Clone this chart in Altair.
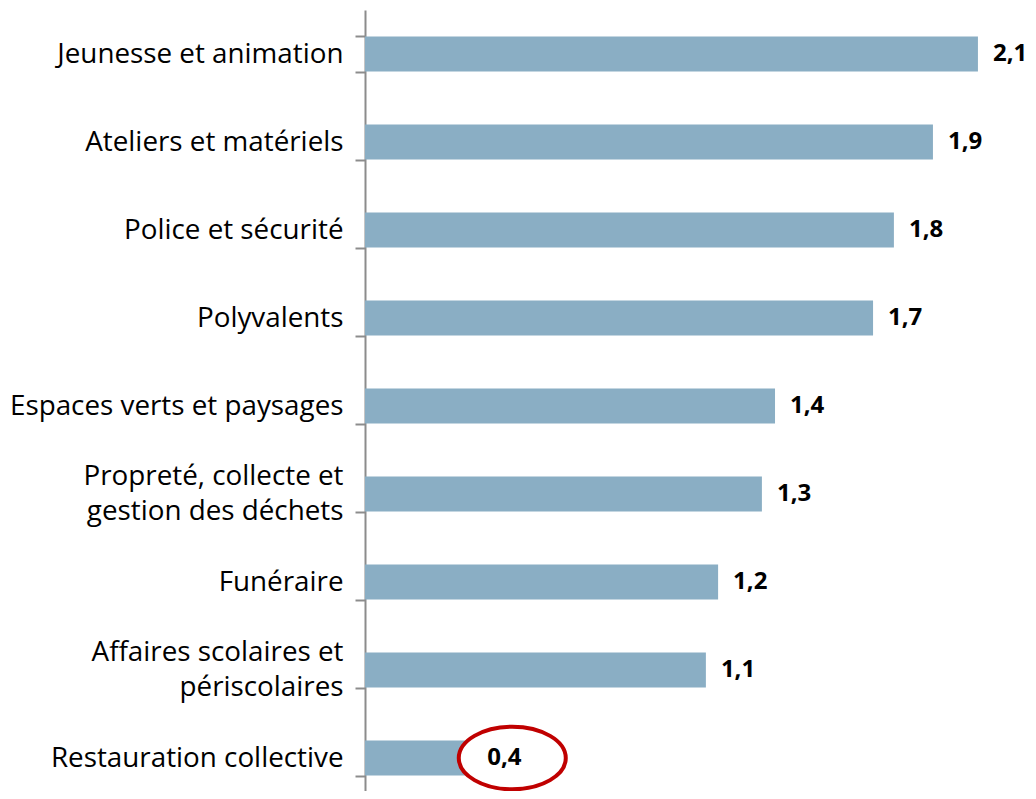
import altair as alt
import pandas as pd

categories = [
    "Jeunesse et animation",
    "Ateliers et matériels",
    "Police et sécurité",
    "Polyvalents",
    "Espaces verts et paysages",
    "Propreté, collecte et|gestion des déchets",
    "Funéraire",
    "Affaires scolaires et|périscolaires",
    "Restauration collective",
]
values = [2.057, 1.906, 1.775, 1.705, 1.376, 1.332, 1.185, 1.144, 0.36]
highlight = [False, False, False, False, False, False, False, False, True]

df = pd.DataFrame({"cat": categories, "value": values, "hl": highlight})

FONT = "Open Sans"
BAR = "#8aaec4"

y = alt.Y("cat:N", sort=categories, title=None,
          scale=alt.Scale(range=[0, 792], paddingInner=0.6, paddingOuter=0.3),
          axis=alt.Axis(tickBand="extent", domainColor="#8c8c8c", domainWidth=2,
                        tickColor="#8c8c8c", tickWidth=2, tickSize=10,
                        labelPadding=12, labelFont=FONT, labelFontSize=27.8,
                        labelColor="#000000", labelLimit=0, labelLineHeight=35,
                        labelOffset={"condition": {"test": "indexof(datum.label, '|') >= 0",
                                                   "value": -17.5},
                                     "value": 0},
                        labelExpr="split(datum.label, '|')"))
x = alt.X("value:Q", title=None, axis=None,
          scale=alt.Scale(domain=[0, 2.225], nice=False, zero=True))

base = alt.Chart(df)

bars = base.mark_bar(color=BAR).encode(x=x, y=y)

ellipse = base.transform_filter("datum.hl").mark_point(
    shape="M -1 0 A 1 0.585 0 1 1 1 0 A 1 0.585 0 1 1 -1 0 Z",
    size=11449, filled=False, fill="#ffffff", fillOpacity=1,
    stroke="#c00000", strokeWidth=4, opacity=1
).encode(x=x, y=y, xOffset=alt.value(40))

labels = base.transform_calculate(
    label="replace(format(datum.value, '.1f'), '.', ',')"
).mark_text(align="left", baseline="middle", dx=15, font=FONT,
            fontSize=24, fontWeight="bold", color="#000000").encode(
    x=x, y=y, text="label:N")

chart = alt.layer(bars, ellipse, labels).properties(
    width=663, height=781,
    autosize=alt.AutoSizeParams(type="none"),
    padding={"left": 357, "top": 2, "right": 0, "bottom": 0},
).configure_view(stroke=None)

chart.save("out.html", embed_options={"renderer": "svg", "actions": False})
